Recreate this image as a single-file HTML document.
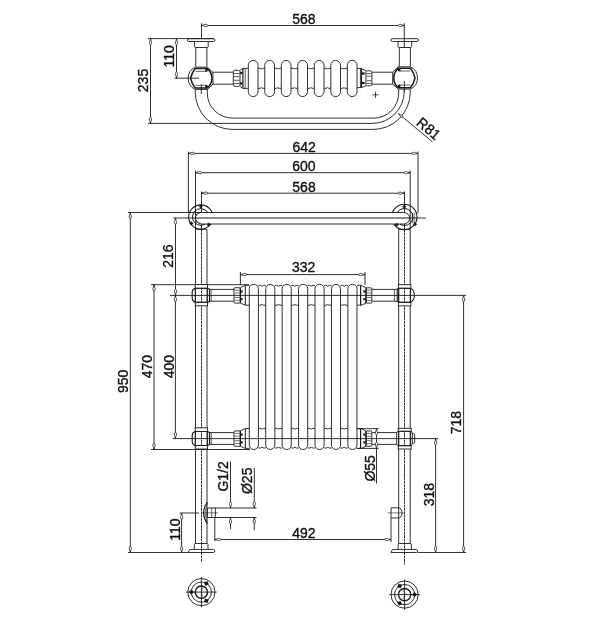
<!DOCTYPE html>
<html><head><meta charset="utf-8"><style>
html,body{margin:0;padding:0;background:#fff;width:600px;height:629px;overflow:hidden}
svg{display:block;will-change:transform}
text{font-family:"Liberation Sans",sans-serif;fill:#111;stroke:#111;stroke-width:0.35px}
</style></head><body>
<svg width="600" height="629" viewBox="0 0 600 629" stroke="#1a1a1a" fill="none">
<line x1="201.50" y1="23.30" x2="201.50" y2="38.50" stroke-width="0.9" />
<line x1="404.30" y1="23.30" x2="404.30" y2="47.50" stroke-width="0.9" />
<line x1="201.50" y1="25.50" x2="404.30" y2="25.50" stroke-width="0.9" />
<path d="M201.50,25.50 L203.80,24.95 C204.90,24.10 207.70,24.10 207.70,25.50 C207.70,26.90 204.90,26.90 203.80,26.05 Z" stroke-width="0.75" fill="#fff"/>
<path d="M404.30,25.50 L402.00,26.05 C400.90,26.90 398.10,26.90 398.10,25.50 C398.10,24.10 400.90,24.10 402.00,24.95 Z" stroke-width="0.75" fill="#fff"/>
<text x="0" y="0" font-size="14" text-anchor="middle" transform="translate(303.90 24.50) translate(0 -0.6) scale(1 1.04)">568</text>
<line x1="150.50" y1="38.70" x2="150.50" y2="123.50" stroke-width="0.9" />
<path d="M150.50,38.70 L151.05,41.00 C151.90,42.10 151.90,44.90 150.50,44.90 C149.10,44.90 149.10,42.10 149.95,41.00 Z" stroke-width="0.75" fill="#fff"/>
<path d="M150.50,123.50 L149.95,121.20 C149.10,120.10 149.10,117.30 150.50,117.30 C151.90,117.30 151.90,120.10 151.05,121.20 Z" stroke-width="0.75" fill="#fff"/>
<text x="0" y="0" font-size="14" text-anchor="middle" transform="translate(149.00 80.50) rotate(-90) translate(0 -0.6) scale(1 1.04)">235</text>
<line x1="148.00" y1="38.60" x2="214.00" y2="38.60" stroke-width="0.9" />
<line x1="176.50" y1="38.70" x2="176.50" y2="78.20" stroke-width="0.9" />
<path d="M176.50,38.70 L177.05,41.00 C177.90,42.10 177.90,44.90 176.50,44.90 C175.10,44.90 175.10,42.10 175.95,41.00 Z" stroke-width="0.75" fill="#fff"/>
<path d="M176.50,78.20 L175.95,75.90 C175.10,74.80 175.10,72.00 176.50,72.00 C177.90,72.00 177.90,74.80 177.05,75.90 Z" stroke-width="0.75" fill="#fff"/>
<text x="0" y="0" font-size="14" text-anchor="middle" transform="translate(174.80 56.30) rotate(-90) translate(0 -0.6) scale(1 1.04)">110</text>
<line x1="174.50" y1="78.20" x2="199.00" y2="78.20" stroke-width="0.9" />
<path d="M188.80,38.7 L213.60,38.7 A1.4,1.4 0 0 1 213.60,41.5 L188.80,41.5 A1.4,1.4 0 0 1 188.80,38.7 Z" stroke-width="0.9" fill="none" />
<path d="M194.50,41.5 L194.50,46.5 Q194.50,47.5 195.80,47.5 L206.90,47.5 Q208.20,47.5 208.20,46.5 L208.20,41.5" stroke-width="0.9" fill="none" />
<line x1="195.80" y1="47.50" x2="195.80" y2="66.50" stroke-width="0.9" />
<line x1="206.90" y1="47.50" x2="206.90" y2="66.50" stroke-width="0.9" />
<path d="M392.30,38.7 L417.10,38.7 A1.4,1.4 0 0 1 417.10,41.5 L392.30,41.5 A1.4,1.4 0 0 1 392.30,38.7 Z" stroke-width="0.9" fill="none" />
<path d="M398.00,41.5 L398.00,46.5 Q398.00,47.5 399.30,47.5 L410.40,47.5 Q411.70,47.5 411.70,46.5 L411.70,41.5" stroke-width="0.9" fill="none" />
<line x1="399.30" y1="47.50" x2="399.30" y2="66.50" stroke-width="0.9" />
<line x1="410.40" y1="47.50" x2="410.40" y2="66.50" stroke-width="0.9" />
<path d="M195.25,67.10 L207.35,67.10 L212.95,72.40 L212.95,84.40 L207.35,89.40 L195.25,89.40 A12.3,12.3 0 0 1 195.25,67.10 Z" stroke-width="0.9" fill="none" />
<path d="M195.25,68.60 L207.35,68.60 A12.6,12.6 0 0 1 207.35,88.00 L195.25,88.00 Q191.85,84.00 190.65,78.30 Q191.85,72.60 195.25,68.60 Z" stroke-width="1.5" fill="none" />
<line x1="195.65" y1="71.30" x2="206.95" y2="71.30" stroke-width="0.7" />
<line x1="195.65" y1="85.30" x2="206.95" y2="85.30" stroke-width="0.7" />
<rect x="205.45" y="68.60" width="2.20" height="2.70" rx="0" stroke-width="0.3" fill="#1a1a1a"/>
<rect x="205.45" y="85.30" width="2.20" height="2.70" rx="0" stroke-width="0.3" fill="#1a1a1a"/>
<path d="M410.40,66.80 L398.30,66.80 L392.70,72.10 L392.70,84.10 L398.30,89.10 L410.40,89.10 A12.3,12.3 0 0 0 410.40,66.80 Z" stroke-width="0.9" fill="none" />
<path d="M410.40,68.30 L398.30,68.30 A12.6,12.6 0 0 0 398.30,87.70 L410.40,87.70 Q413.80,83.70 415.00,78.00 Q413.80,72.30 410.40,68.30 Z" stroke-width="1.5" fill="none" />
<line x1="410.00" y1="71.00" x2="398.70" y2="71.00" stroke-width="0.7" />
<line x1="410.00" y1="85.00" x2="398.70" y2="85.00" stroke-width="0.7" />
<rect x="398.00" y="68.30" width="2.20" height="2.70" rx="0" stroke-width="0.3" fill="#1a1a1a"/>
<rect x="398.00" y="85.00" width="2.20" height="2.70" rx="0" stroke-width="0.3" fill="#1a1a1a"/>
<line x1="201.30" y1="84.50" x2="201.30" y2="94.00" stroke-width="0.9" />
<line x1="404.30" y1="80.80" x2="404.30" y2="92.00" stroke-width="0.9" />
<line x1="212.50" y1="72.20" x2="233.30" y2="72.20" stroke-width="0.9" />
<line x1="212.50" y1="84.20" x2="233.30" y2="84.20" stroke-width="0.9" />
<line x1="372.00" y1="72.20" x2="392.70" y2="72.20" stroke-width="0.9" />
<line x1="372.00" y1="84.20" x2="392.70" y2="84.20" stroke-width="0.9" />
<rect x="233.30" y="70.30" width="6.70" height="16.00" rx="1.5" stroke-width="0.9" fill="none"/>
<line x1="233.80" y1="73.50" x2="239.50" y2="73.50" stroke-width="0.7" />
<line x1="233.80" y1="76.60" x2="239.50" y2="76.60" stroke-width="0.7" />
<line x1="233.80" y1="80.30" x2="239.50" y2="80.30" stroke-width="0.7" />
<line x1="233.80" y1="83.50" x2="239.50" y2="83.50" stroke-width="0.7" />
<path d="M240,70.3 L242.9,68.3 L248.4,68.3 M240,86.3 L242.9,88.4 L248.4,88.4" stroke-width="0.9" fill="none" />
<line x1="242.90" y1="68.30" x2="242.90" y2="88.40" stroke-width="1.2" />
<line x1="245.20" y1="68.30" x2="245.20" y2="88.40" stroke-width="0.7" />
<rect x="240.20" y="72.00" width="2.00" height="2.00" rx="0" stroke-width="0.3" fill="#1a1a1a"/>
<rect x="240.20" y="82.50" width="2.00" height="2.00" rx="0" stroke-width="0.3" fill="#1a1a1a"/>
<rect x="365.90" y="70.80" width="6.00" height="15.00" rx="1.5" stroke-width="0.9" fill="none"/>
<line x1="366.40" y1="73.50" x2="371.40" y2="73.50" stroke-width="0.7" />
<line x1="366.40" y1="76.20" x2="371.40" y2="76.20" stroke-width="0.7" />
<line x1="366.40" y1="80.70" x2="371.40" y2="80.70" stroke-width="0.7" />
<line x1="366.40" y1="83.40" x2="371.40" y2="83.40" stroke-width="0.7" />
<path d="M365.9,70.8 L361.4,68.4 L357,68.4 M365.9,85.8 L361.4,87.6 L357,87.6" stroke-width="0.9" fill="none" />
<line x1="361.40" y1="68.40" x2="361.40" y2="87.60" stroke-width="1.2" />
<line x1="360.40" y1="68.40" x2="360.40" y2="87.60" stroke-width="0.8" />
<rect x="362.00" y="72.50" width="2.50" height="2.00" rx="0" stroke-width="0.3" fill="#1a1a1a"/>
<rect x="362.00" y="82.00" width="2.50" height="2.00" rx="0" stroke-width="0.3" fill="#1a1a1a"/>
<rect x="248.30" y="60.40" width="9.70" height="36.20" rx="4.85" stroke-width="0.9" fill="none"/>
<path d="M258.00,68.3 L260.10,68.3 Q261.40,69.6 262.70,68.3 L264.80,68.3" stroke-width="0.9" fill="none" />
<path d="M258.00,88.3 L260.10,88.3 Q261.40,87 262.70,88.3 L264.80,88.3" stroke-width="0.9" fill="none" />
<rect x="264.80" y="60.40" width="9.70" height="36.20" rx="4.85" stroke-width="0.9" fill="none"/>
<path d="M274.50,68.3 L276.60,68.3 Q277.90,69.6 279.20,68.3 L281.30,68.3" stroke-width="0.9" fill="none" />
<path d="M274.50,88.3 L276.60,88.3 Q277.90,87 279.20,88.3 L281.30,88.3" stroke-width="0.9" fill="none" />
<rect x="281.30" y="60.40" width="9.70" height="36.20" rx="4.85" stroke-width="0.9" fill="none"/>
<path d="M291.00,68.3 L293.10,68.3 Q294.40,69.6 295.70,68.3 L297.80,68.3" stroke-width="0.9" fill="none" />
<path d="M291.00,88.3 L293.10,88.3 Q294.40,87 295.70,88.3 L297.80,88.3" stroke-width="0.9" fill="none" />
<rect x="297.80" y="60.40" width="9.70" height="36.20" rx="4.85" stroke-width="0.9" fill="none"/>
<path d="M307.50,68.3 L309.60,68.3 Q310.90,69.6 312.20,68.3 L314.30,68.3" stroke-width="0.9" fill="none" />
<path d="M307.50,88.3 L309.60,88.3 Q310.90,87 312.20,88.3 L314.30,88.3" stroke-width="0.9" fill="none" />
<rect x="314.30" y="60.40" width="9.70" height="36.20" rx="4.85" stroke-width="0.9" fill="none"/>
<path d="M324.00,68.3 L326.10,68.3 Q327.40,69.6 328.70,68.3 L330.80,68.3" stroke-width="0.9" fill="none" />
<path d="M324.00,88.3 L326.10,88.3 Q327.40,87 328.70,88.3 L330.80,88.3" stroke-width="0.9" fill="none" />
<rect x="330.80" y="60.40" width="9.70" height="36.20" rx="4.85" stroke-width="0.9" fill="none"/>
<path d="M340.50,68.3 L342.60,68.3 Q343.90,69.6 345.20,68.3 L347.30,68.3" stroke-width="0.9" fill="none" />
<path d="M340.50,88.3 L342.60,88.3 Q343.90,87 345.20,88.3 L347.30,88.3" stroke-width="0.9" fill="none" />
<rect x="347.30" y="60.40" width="9.70" height="36.20" rx="4.85" stroke-width="0.9" fill="none"/>
<path d="M195.3,89.5 L195.3,92.40 A37,37 0 0 0 232.30,129.4 L373.20,129.4 A37,37 0 0 0 410.2,92.40 L410.2,89.5" stroke-width="0.9" fill="none" />
<path d="M207.3,89.5 L207.3,93.10 A25,25 0 0 0 232.30,118.1 L373.70,118.1 A25,25 0 0 0 398.7,93.10 L398.7,89.5" stroke-width="0.9" fill="none" />
<path d="M148,123.4 L372.20,123.4 A32,32 0 0 0 404.2,91.40 L404.2,89.5" stroke-width="0.9" fill="none" />
<line x1="372.50" y1="94.80" x2="378.50" y2="94.80" stroke-width="0.8" />
<line x1="375.50" y1="91.80" x2="375.50" y2="97.80" stroke-width="0.8" />
<line x1="398.30" y1="113.50" x2="432.50" y2="141.90" stroke-width="0.9" />
<path d="M398.60,113.80 L400.37,114.67 C401.53,114.71 403.32,116.20 402.57,117.10 C401.83,118.00 400.03,116.51 399.78,115.38 Z" stroke-width="0.75" fill="#fff"/>
<text x="0" y="0" font-size="14" text-anchor="middle" transform="translate(425.10 132.90) rotate(39.7) translate(0 -0.6) scale(1 1.04)">R81</text>
<line x1="188.40" y1="151.50" x2="188.40" y2="212.50" stroke-width="0.9" />
<line x1="418.00" y1="151.50" x2="418.00" y2="213.50" stroke-width="0.9" />
<line x1="188.40" y1="153.40" x2="418.00" y2="153.40" stroke-width="0.9" />
<path d="M188.40,153.40 L190.70,152.85 C191.80,152.00 194.60,152.00 194.60,153.40 C194.60,154.80 191.80,154.80 190.70,153.95 Z" stroke-width="0.75" fill="#fff"/>
<path d="M418.00,153.40 L415.70,153.95 C414.60,154.80 411.80,154.80 411.80,153.40 C411.80,152.00 414.60,152.00 415.70,152.85 Z" stroke-width="0.75" fill="#fff"/>
<text x="0" y="0" font-size="14" text-anchor="middle" transform="translate(304.20 152.30) translate(0 -0.6) scale(1 1.04)">642</text>
<line x1="195.50" y1="170.40" x2="195.50" y2="229.20" stroke-width="0.9" />
<line x1="410.20" y1="170.40" x2="410.20" y2="229.20" stroke-width="0.9" />
<line x1="195.50" y1="172.70" x2="410.20" y2="172.70" stroke-width="0.9" />
<path d="M195.50,172.70 L197.80,172.15 C198.90,171.30 201.70,171.30 201.70,172.70 C201.70,174.10 198.90,174.10 197.80,173.25 Z" stroke-width="0.75" fill="#fff"/>
<path d="M410.20,172.70 L407.90,173.25 C406.80,174.10 404.00,174.10 404.00,172.70 C404.00,171.30 406.80,171.30 407.90,172.15 Z" stroke-width="0.75" fill="#fff"/>
<text x="0" y="0" font-size="14" text-anchor="middle" transform="translate(303.85 171.80) translate(0 -0.6) scale(1 1.04)">600</text>
<line x1="201.50" y1="191.40" x2="201.50" y2="229.20" stroke-width="0.9" />
<line x1="404.50" y1="191.40" x2="404.50" y2="229.20" stroke-width="0.9" />
<line x1="201.50" y1="193.20" x2="404.50" y2="193.20" stroke-width="0.9" />
<path d="M201.50,193.20 L203.80,192.65 C204.90,191.80 207.70,191.80 207.70,193.20 C207.70,194.60 204.90,194.60 203.80,193.75 Z" stroke-width="0.75" fill="#fff"/>
<path d="M404.50,193.20 L402.20,193.75 C401.10,194.60 398.30,194.60 398.30,193.20 C398.30,191.80 401.10,191.80 402.20,192.65 Z" stroke-width="0.75" fill="#fff"/>
<text x="0" y="0" font-size="14" text-anchor="middle" transform="translate(304.00 192.10) translate(0 -0.6) scale(1 1.04)">568</text>
<line x1="130.30" y1="212.50" x2="130.30" y2="552.50" stroke-width="0.9" />
<path d="M130.30,212.50 L130.85,214.80 C131.70,215.90 131.70,218.70 130.30,218.70 C128.90,218.70 128.90,215.90 129.75,214.80 Z" stroke-width="0.75" fill="#fff"/>
<path d="M130.30,552.50 L129.75,550.20 C128.90,549.10 128.90,546.30 130.30,546.30 C131.70,546.30 131.70,549.10 130.85,550.20 Z" stroke-width="0.75" fill="#fff"/>
<text x="0" y="0" font-size="14" text-anchor="middle" transform="translate(128.50 381.30) rotate(-90) translate(0 -0.6) scale(1 1.04)">950</text>
<line x1="128.00" y1="212.50" x2="195.00" y2="212.50" stroke-width="0.9" />
<line x1="128.00" y1="552.50" x2="188.60" y2="552.50" stroke-width="0.9" />
<line x1="175.50" y1="218.00" x2="175.50" y2="295.40" stroke-width="0.9" />
<path d="M175.50,218.00 L176.05,220.30 C176.90,221.40 176.90,224.20 175.50,224.20 C174.10,224.20 174.10,221.40 174.95,220.30 Z" stroke-width="0.75" fill="#fff"/>
<path d="M175.50,295.40 L174.95,293.10 C174.10,292.00 174.10,289.20 175.50,289.20 C176.90,289.20 176.90,292.00 176.05,293.10 Z" stroke-width="0.75" fill="#fff"/>
<text x="0" y="0" font-size="14" text-anchor="middle" transform="translate(173.80 256.10) rotate(-90) translate(0 -0.6) scale(1 1.04)">216</text>
<line x1="154.00" y1="284.70" x2="154.00" y2="449.50" stroke-width="0.9" />
<path d="M154.00,284.70 L154.55,287.00 C155.40,288.10 155.40,290.90 154.00,290.90 C152.60,290.90 152.60,288.10 153.45,287.00 Z" stroke-width="0.75" fill="#fff"/>
<path d="M154.00,449.50 L153.45,447.20 C152.60,446.10 152.60,443.30 154.00,443.30 C155.40,443.30 155.40,446.10 154.55,447.20 Z" stroke-width="0.75" fill="#fff"/>
<text x="0" y="0" font-size="14" text-anchor="middle" transform="translate(152.50 366.70) rotate(-90) translate(0 -0.6) scale(1 1.04)">470</text>
<line x1="151.00" y1="284.70" x2="249.00" y2="284.70" stroke-width="0.9" />
<line x1="151.00" y1="449.50" x2="250.00" y2="449.50" stroke-width="0.9" />
<line x1="175.40" y1="295.40" x2="175.40" y2="438.60" stroke-width="0.9" />
<path d="M175.40,295.40 L175.95,297.70 C176.80,298.80 176.80,301.60 175.40,301.60 C174.00,301.60 174.00,298.80 174.85,297.70 Z" stroke-width="0.75" fill="#fff"/>
<path d="M175.40,438.60 L174.85,436.30 C174.00,435.20 174.00,432.40 175.40,432.40 C176.80,432.40 176.80,435.20 175.95,436.30 Z" stroke-width="0.75" fill="#fff"/>
<text x="0" y="0" font-size="14" text-anchor="middle" transform="translate(174.50 366.60) rotate(-90) translate(0 -0.6) scale(1 1.04)">400</text>
<line x1="172.70" y1="438.60" x2="438.00" y2="438.60" stroke-width="0.9" />
<line x1="170.00" y1="295.40" x2="466.00" y2="295.40" stroke-width="0.9" />
<line x1="463.60" y1="295.40" x2="463.60" y2="552.50" stroke-width="0.9" />
<path d="M463.60,295.40 L464.15,297.70 C465.00,298.80 465.00,301.60 463.60,301.60 C462.20,301.60 462.20,298.80 463.05,297.70 Z" stroke-width="0.75" fill="#fff"/>
<path d="M463.60,552.50 L463.05,550.20 C462.20,549.10 462.20,546.30 463.60,546.30 C465.00,546.30 465.00,549.10 464.15,550.20 Z" stroke-width="0.75" fill="#fff"/>
<text x="0" y="0" font-size="14" text-anchor="middle" transform="translate(462.00 422.70) rotate(-90) translate(0 -0.6) scale(1 1.04)">718</text>
<line x1="417.60" y1="552.50" x2="466.00" y2="552.50" stroke-width="0.9" />
<line x1="435.60" y1="438.60" x2="435.60" y2="552.50" stroke-width="0.9" />
<path d="M435.60,438.60 L436.15,440.90 C437.00,442.00 437.00,444.80 435.60,444.80 C434.20,444.80 434.20,442.00 435.05,440.90 Z" stroke-width="0.75" fill="#fff"/>
<path d="M435.60,552.50 L435.05,550.20 C434.20,549.10 434.20,546.30 435.60,546.30 C437.00,546.30 437.00,549.10 436.15,550.20 Z" stroke-width="0.75" fill="#fff"/>
<text x="0" y="0" font-size="14" text-anchor="middle" transform="translate(435.00 494.60) rotate(-90) translate(0 -0.6) scale(1 1.04)">318</text>
<line x1="240.40" y1="272.00" x2="240.40" y2="285.00" stroke-width="0.9" />
<line x1="365.00" y1="272.00" x2="365.00" y2="285.00" stroke-width="0.9" />
<line x1="240.40" y1="274.60" x2="365.00" y2="274.60" stroke-width="0.9" />
<path d="M240.40,274.60 L242.70,274.05 C243.80,273.20 246.60,273.20 246.60,274.60 C246.60,276.00 243.80,276.00 242.70,275.15 Z" stroke-width="0.75" fill="#fff"/>
<path d="M365.00,274.60 L362.70,275.15 C361.60,276.00 358.80,276.00 358.80,274.60 C358.80,273.20 361.60,273.20 362.70,274.05 Z" stroke-width="0.75" fill="#fff"/>
<text x="0" y="0" font-size="14" text-anchor="middle" transform="translate(303.70 272.80) translate(0 -0.6) scale(1 1.04)">332</text>
<circle cx="200.80" cy="217.00" r="12.10" stroke-width="1.1" fill="none"/>
<circle cx="200.80" cy="217.00" r="8.30" stroke-width="1.0" fill="none"/>
<circle cx="404.30" cy="217.00" r="12.70" stroke-width="1.1" fill="none"/>
<circle cx="404.30" cy="217.00" r="8.50" stroke-width="1.0" fill="none"/>
<path d="M200.6,212.5 L403.85,212.5 A5.75,5.75 0 0 1 403.85,224.0 L200.6,224.0 A5.75,5.75 0 0 1 200.6,212.5 Z" fill="#fff" stroke="none"/>
<line x1="195.40" y1="212.50" x2="403.85" y2="212.50" stroke-width="0.9" />
<line x1="200.60" y1="224.00" x2="403.85" y2="224.00" stroke-width="0.9" />
<path d="M403.85,212.5 A5.75,5.75 0 0 1 403.85,224.0" stroke-width="0.9" fill="none" />
<path d="M200.6,212.8 A5.3,5.3 0 0 0 200.6,223.4" stroke-width="1.1" fill="none" />
<line x1="173.50" y1="218.00" x2="195.40" y2="218.00" stroke-width="0.9" />
<line x1="195.40" y1="218.00" x2="409.60" y2="218.00" stroke-width="1.0" />
<line x1="409.60" y1="218.00" x2="425.80" y2="218.00" stroke-width="0.9" />
<line x1="412.50" y1="213.00" x2="412.50" y2="223.00" stroke-width="0.7" />
<line x1="414.20" y1="213.00" x2="414.20" y2="223.00" stroke-width="0.7" />
<rect x="199.50" y="205.10" width="2.6" height="2.6" transform="rotate(45 200.80 206.40)" fill="#1a1a1a" stroke-width="0.4"/>
<rect x="190.00" y="222.10" width="2.6" height="2.6" transform="rotate(45 191.30 223.40)" fill="#1a1a1a" stroke-width="0.4"/>
<rect x="207.40" y="223.40" width="2.6" height="2.6" transform="rotate(45 208.70 224.70)" fill="#1a1a1a" stroke-width="0.4"/>
<rect x="403.00" y="205.40" width="2.6" height="2.6" transform="rotate(45 404.30 206.70)" fill="#1a1a1a" stroke-width="0.4"/>
<rect x="413.70" y="222.90" width="2.6" height="2.6" transform="rotate(45 415.00 224.20)" fill="#1a1a1a" stroke-width="0.4"/>
<rect x="395.40" y="223.50" width="2.6" height="2.6" transform="rotate(45 396.70 224.80)" fill="#1a1a1a" stroke-width="0.4"/>
<line x1="195.50" y1="229.30" x2="207.00" y2="229.30" stroke-width="0.9" />
<line x1="398.70" y1="229.40" x2="410.20" y2="229.40" stroke-width="0.9" />
<line x1="195.50" y1="229.20" x2="195.50" y2="543.40" stroke-width="0.9" />
<line x1="207.00" y1="229.20" x2="207.00" y2="543.40" stroke-width="0.9" />
<line x1="201.50" y1="229.20" x2="201.50" y2="562.00" stroke-width="0.9" stroke-dasharray="2.8,0.6"/>
<line x1="398.70" y1="229.20" x2="398.70" y2="543.40" stroke-width="0.9" />
<line x1="410.20" y1="229.20" x2="410.20" y2="543.40" stroke-width="0.9" />
<line x1="404.50" y1="229.20" x2="404.50" y2="564.50" stroke-width="0.9" stroke-dasharray="2.8,0.6"/>
<rect x="195.20" y="284.60" width="12.40" height="3.70" rx="0" stroke-width="0.9" fill="#fff"/>
<rect x="195.20" y="302.30" width="12.40" height="3.50" rx="0" stroke-width="0.9" fill="#fff"/>
<path d="M195.2,288.30 L207.6,288.30 L209.6,289.30 L209.6,301.30 L207.6,302.30 L195.2,302.30 Q192.2,301.20 192.2,298.20 L192.2,292.20 Q192.2,289.20 195.2,288.30 Z" stroke-width="1.1" fill="none" />
<line x1="195.20" y1="288.30" x2="195.20" y2="302.30" stroke-width="0.9" />
<line x1="207.60" y1="288.30" x2="207.60" y2="302.30" stroke-width="0.9" />
<line x1="209.60" y1="289.30" x2="211.20" y2="289.30" stroke-width="0.9" />
<line x1="209.60" y1="301.30" x2="211.20" y2="301.30" stroke-width="0.9" />
<line x1="211.20" y1="289.30" x2="211.20" y2="301.30" stroke-width="0.7" />
<rect x="195.20" y="427.80" width="12.40" height="3.70" rx="0" stroke-width="0.9" fill="#fff"/>
<rect x="195.20" y="445.50" width="12.40" height="3.50" rx="0" stroke-width="0.9" fill="#fff"/>
<path d="M195.2,431.50 L207.6,431.50 L209.6,432.50 L209.6,444.50 L207.6,445.50 L195.2,445.50 Q192.2,444.40 192.2,441.40 L192.2,435.40 Q192.2,432.40 195.2,431.50 Z" stroke-width="1.1" fill="none" />
<line x1="195.20" y1="431.50" x2="195.20" y2="445.50" stroke-width="0.9" />
<line x1="207.60" y1="431.50" x2="207.60" y2="445.50" stroke-width="0.9" />
<line x1="209.60" y1="432.50" x2="211.20" y2="432.50" stroke-width="0.9" />
<line x1="209.60" y1="444.50" x2="211.20" y2="444.50" stroke-width="0.9" />
<line x1="211.20" y1="432.50" x2="211.20" y2="444.50" stroke-width="0.7" />
<rect x="398.40" y="284.70" width="12.50" height="3.60" rx="0" stroke-width="0.9" fill="#fff"/>
<rect x="398.40" y="302.30" width="12.50" height="3.60" rx="0" stroke-width="0.9" fill="#fff"/>
<path d="M398.4,288.30 L409.5,288.30 Q414.4,289.20 414.4,295.30 Q414.4,301.40 409.5,302.30 L398.4,302.30 L397.2,301.30 L397.2,289.30 Z" stroke-width="1.1" fill="none" />
<line x1="398.70" y1="288.30" x2="398.70" y2="302.30" stroke-width="0.9" />
<line x1="410.60" y1="288.30" x2="410.60" y2="302.30" stroke-width="0.9" />
<line x1="394.40" y1="289.30" x2="397.20" y2="289.30" stroke-width="0.9" />
<line x1="394.40" y1="301.30" x2="397.20" y2="301.30" stroke-width="0.9" />
<line x1="394.40" y1="289.30" x2="394.40" y2="301.30" stroke-width="0.7" />
<rect x="398.20" y="428.30" width="13.00" height="3.00" rx="0" stroke-width="0.9" fill="#fff"/>
<rect x="398.20" y="445.70" width="13.00" height="3.30" rx="0" stroke-width="0.9" fill="#fff"/>
<path d="M398.2,431.30 L410.3,431.30 Q412.3,431.30 412.3,433.30 L412.3,443.70 Q412.3,445.70 410.3,445.70 L398.2,445.70 L396.7,444.40 L396.7,432.40 Z" stroke-width="0.9" fill="none" />
<path d="M412.3,433.70 L413.6,433.70 Q414.7,433.70 414.7,434.90 L414.7,442.10 Q414.7,443.30 413.6,443.30 L412.3,443.30" stroke-width="0.9" fill="none" />
<line x1="398.70" y1="431.30" x2="398.70" y2="445.70" stroke-width="0.9" />
<line x1="410.60" y1="431.30" x2="410.60" y2="445.70" stroke-width="0.9" />
<line x1="211.20" y1="289.40" x2="234.00" y2="289.40" stroke-width="0.9" />
<line x1="211.20" y1="301.20" x2="234.00" y2="301.20" stroke-width="0.9" />
<line x1="211.20" y1="432.60" x2="234.00" y2="432.60" stroke-width="0.9" />
<line x1="211.20" y1="444.40" x2="234.00" y2="444.40" stroke-width="0.9" />
<line x1="372.00" y1="289.40" x2="394.40" y2="289.40" stroke-width="0.9" />
<line x1="372.00" y1="301.20" x2="394.40" y2="301.20" stroke-width="0.9" />
<line x1="372.00" y1="432.60" x2="396.70" y2="432.60" stroke-width="0.9" />
<line x1="372.00" y1="444.40" x2="396.70" y2="444.40" stroke-width="0.9" />
<rect x="234.00" y="287.70" width="6.30" height="15.40" rx="1" stroke-width="0.9" fill="none"/>
<line x1="234.60" y1="290.20" x2="239.80" y2="290.20" stroke-width="0.6" />
<line x1="234.60" y1="293.00" x2="239.80" y2="293.00" stroke-width="0.6" />
<line x1="234.60" y1="297.50" x2="239.80" y2="297.50" stroke-width="0.6" />
<line x1="234.60" y1="300.40" x2="239.80" y2="300.40" stroke-width="0.6" />
<line x1="240.40" y1="287.70" x2="240.40" y2="303.10" stroke-width="1.3" />
<path d="M240.4,287.70 L245.3,285.30 M240.4,303.10 L245.3,305.20" stroke-width="0.9" fill="none" />
<line x1="245.30" y1="285.30" x2="245.30" y2="305.20" stroke-width="1.0" />
<line x1="245.30" y1="285.30" x2="249.50" y2="285.30" stroke-width="0.9" />
<line x1="245.30" y1="305.20" x2="249.50" y2="305.20" stroke-width="0.9" />
<rect x="240.80" y="290.60" width="1.80" height="1.80" rx="0" stroke-width="0.3" fill="#1a1a1a"/>
<rect x="240.80" y="298.20" width="1.80" height="1.80" rx="0" stroke-width="0.3" fill="#1a1a1a"/>
<rect x="366.00" y="287.80" width="5.80" height="15.30" rx="1" stroke-width="0.9" fill="none"/>
<line x1="366.50" y1="290.20" x2="371.30" y2="290.20" stroke-width="0.6" />
<line x1="366.50" y1="293.00" x2="371.30" y2="293.00" stroke-width="0.6" />
<line x1="366.50" y1="297.50" x2="371.30" y2="297.50" stroke-width="0.6" />
<line x1="366.50" y1="300.40" x2="371.30" y2="300.40" stroke-width="0.6" />
<line x1="366.00" y1="287.80" x2="366.00" y2="303.10" stroke-width="1.3" />
<path d="M366,287.80 L361.3,285.30 M366,303.10 L361.3,305.20" stroke-width="0.9" fill="none" />
<line x1="360.60" y1="285.30" x2="360.60" y2="305.20" stroke-width="1.2" />
<line x1="357.00" y1="285.30" x2="361.30" y2="285.30" stroke-width="0.9" />
<line x1="357.00" y1="305.20" x2="361.30" y2="305.20" stroke-width="0.9" />
<rect x="363.60" y="290.60" width="1.80" height="1.80" rx="0" stroke-width="0.3" fill="#1a1a1a"/>
<rect x="363.60" y="298.20" width="1.80" height="1.80" rx="0" stroke-width="0.3" fill="#1a1a1a"/>
<rect x="234.00" y="430.90" width="6.30" height="15.40" rx="1" stroke-width="0.9" fill="none"/>
<line x1="234.60" y1="433.40" x2="239.80" y2="433.40" stroke-width="0.6" />
<line x1="234.60" y1="436.20" x2="239.80" y2="436.20" stroke-width="0.6" />
<line x1="234.60" y1="440.70" x2="239.80" y2="440.70" stroke-width="0.6" />
<line x1="234.60" y1="443.60" x2="239.80" y2="443.60" stroke-width="0.6" />
<line x1="240.40" y1="430.90" x2="240.40" y2="446.30" stroke-width="1.3" />
<path d="M240.4,430.90 L245.3,428.50 M240.4,446.30 L245.3,448.40" stroke-width="0.9" fill="none" />
<line x1="245.30" y1="428.50" x2="245.30" y2="448.40" stroke-width="1.0" />
<line x1="245.30" y1="428.50" x2="249.50" y2="428.50" stroke-width="0.9" />
<line x1="245.30" y1="448.40" x2="249.50" y2="448.40" stroke-width="0.9" />
<rect x="240.80" y="433.80" width="1.80" height="1.80" rx="0" stroke-width="0.3" fill="#1a1a1a"/>
<rect x="240.80" y="441.40" width="1.80" height="1.80" rx="0" stroke-width="0.3" fill="#1a1a1a"/>
<rect x="366.00" y="431.00" width="5.80" height="15.30" rx="1" stroke-width="0.9" fill="none"/>
<line x1="366.50" y1="433.40" x2="371.30" y2="433.40" stroke-width="0.6" />
<line x1="366.50" y1="436.20" x2="371.30" y2="436.20" stroke-width="0.6" />
<line x1="366.50" y1="440.70" x2="371.30" y2="440.70" stroke-width="0.6" />
<line x1="366.50" y1="443.60" x2="371.30" y2="443.60" stroke-width="0.6" />
<line x1="366.00" y1="431.00" x2="366.00" y2="446.30" stroke-width="1.3" />
<path d="M366,431.00 L361.3,428.50 M366,446.30 L361.3,448.40" stroke-width="0.9" fill="none" />
<line x1="360.60" y1="428.50" x2="360.60" y2="448.40" stroke-width="1.2" />
<line x1="357.00" y1="428.50" x2="361.30" y2="428.50" stroke-width="0.9" />
<line x1="357.00" y1="448.40" x2="361.30" y2="448.40" stroke-width="0.9" />
<rect x="363.60" y="433.80" width="1.80" height="1.80" rx="0" stroke-width="0.3" fill="#1a1a1a"/>
<rect x="363.60" y="441.40" width="1.80" height="1.80" rx="0" stroke-width="0.3" fill="#1a1a1a"/>
<path d="M249.30,288.4 A4.55,4 0 0 1 258.40,288.4 L258.40,445.1 A4.55,4.4 0 0 1 249.30,445.1 Z" stroke-width="0.9" fill="none" />
<path d="M258.40,285.4 L260.47,285.4 Q262.07,287 263.67,285.4 L265.73,285.4" stroke-width="0.9" fill="none" />
<path d="M258.40,305.2 L260.57,305.2 Q262.07,303.8 263.57,305.2 L265.73,305.2" stroke-width="0.9" fill="none" />
<path d="M258.40,428.4 L260.57,428.4 Q262.07,429.9 263.57,428.4 L265.73,428.4" stroke-width="0.9" fill="none" />
<path d="M258.40,448 L260.57,448 Q262.07,446.6 263.57,448 L265.73,448" stroke-width="0.9" fill="none" />
<path d="M265.73,288.4 A4.55,4 0 0 1 274.83,288.4 L274.83,445.1 A4.55,4.4 0 0 1 265.73,445.1 Z" stroke-width="0.9" fill="none" />
<path d="M274.83,285.4 L276.89,285.4 Q278.50,287 280.10,285.4 L282.16,285.4" stroke-width="0.9" fill="none" />
<path d="M274.83,305.2 L277.00,305.2 Q278.50,303.8 280.00,305.2 L282.16,305.2" stroke-width="0.9" fill="none" />
<path d="M274.83,428.4 L277.00,428.4 Q278.50,429.9 280.00,428.4 L282.16,428.4" stroke-width="0.9" fill="none" />
<path d="M274.83,448 L277.00,448 Q278.50,446.6 280.00,448 L282.16,448" stroke-width="0.9" fill="none" />
<path d="M282.16,288.4 A4.55,4 0 0 1 291.26,288.4 L291.26,445.1 A4.55,4.4 0 0 1 282.16,445.1 Z" stroke-width="0.9" fill="none" />
<path d="M291.26,285.4 L293.33,285.4 Q294.93,287 296.53,285.4 L298.59,285.4" stroke-width="0.9" fill="none" />
<path d="M291.26,305.2 L293.43,305.2 Q294.93,303.8 296.43,305.2 L298.59,305.2" stroke-width="0.9" fill="none" />
<path d="M291.26,428.4 L293.43,428.4 Q294.93,429.9 296.43,428.4 L298.59,428.4" stroke-width="0.9" fill="none" />
<path d="M291.26,448 L293.43,448 Q294.93,446.6 296.43,448 L298.59,448" stroke-width="0.9" fill="none" />
<path d="M298.59,288.4 A4.55,4 0 0 1 307.69,288.4 L307.69,445.1 A4.55,4.4 0 0 1 298.59,445.1 Z" stroke-width="0.9" fill="none" />
<path d="M307.69,285.4 L309.75,285.4 Q311.36,287 312.96,285.4 L315.02,285.4" stroke-width="0.9" fill="none" />
<path d="M307.69,305.2 L309.86,305.2 Q311.36,303.8 312.86,305.2 L315.02,305.2" stroke-width="0.9" fill="none" />
<path d="M307.69,428.4 L309.86,428.4 Q311.36,429.9 312.86,428.4 L315.02,428.4" stroke-width="0.9" fill="none" />
<path d="M307.69,448 L309.86,448 Q311.36,446.6 312.86,448 L315.02,448" stroke-width="0.9" fill="none" />
<path d="M315.02,288.4 A4.55,4 0 0 1 324.12,288.4 L324.12,445.1 A4.55,4.4 0 0 1 315.02,445.1 Z" stroke-width="0.9" fill="none" />
<path d="M324.12,285.4 L326.18,285.4 Q327.78,287 329.38,285.4 L331.45,285.4" stroke-width="0.9" fill="none" />
<path d="M324.12,305.2 L326.28,305.2 Q327.78,303.8 329.28,305.2 L331.45,305.2" stroke-width="0.9" fill="none" />
<path d="M324.12,428.4 L326.28,428.4 Q327.78,429.9 329.28,428.4 L331.45,428.4" stroke-width="0.9" fill="none" />
<path d="M324.12,448 L326.28,448 Q327.78,446.6 329.28,448 L331.45,448" stroke-width="0.9" fill="none" />
<path d="M331.45,288.4 A4.55,4 0 0 1 340.55,288.4 L340.55,445.1 A4.55,4.4 0 0 1 331.45,445.1 Z" stroke-width="0.9" fill="none" />
<path d="M340.55,285.4 L342.62,285.4 Q344.22,287 345.82,285.4 L347.88,285.4" stroke-width="0.9" fill="none" />
<path d="M340.55,305.2 L342.72,305.2 Q344.22,303.8 345.72,305.2 L347.88,305.2" stroke-width="0.9" fill="none" />
<path d="M340.55,428.4 L342.72,428.4 Q344.22,429.9 345.72,428.4 L347.88,428.4" stroke-width="0.9" fill="none" />
<path d="M340.55,448 L342.72,448 Q344.22,446.6 345.72,448 L347.88,448" stroke-width="0.9" fill="none" />
<path d="M347.88,288.4 A4.55,4 0 0 1 356.98,288.4 L356.98,445.1 A4.55,4.4 0 0 1 347.88,445.1 Z" stroke-width="0.9" fill="none" />
<path d="M189.80,549.4 L213.50,549.4 Q214.80,549.6 214.80,550.9 Q214.80,552.5 213.50,552.5 L188.20,552.5 Z" stroke-width="0.9" fill="none" />
<path d="M193.70,549.4 Q194.30,549.2 194.30,548.2 L194.30,544.6 Q194.30,543.5 195.50,543.5 L207.00,543.5 Q208.00,543.5 208.00,544.6 L208.00,548.2 Q208.00,549.2 208.60,549.4" stroke-width="0.9" fill="none" />
<path d="M392.60,549.4 L416.30,549.4 Q417.60,549.6 417.60,550.9 Q417.60,552.5 416.30,552.5 L391.00,552.5 Z" stroke-width="0.9" fill="none" />
<path d="M397.60,549.4 Q398.20,549.2 398.20,548.2 L398.20,544.6 Q398.20,543.5 398.70,543.5 L410.20,543.5 Q411.40,543.5 411.40,544.6 L411.40,548.2 Q411.40,549.2 412.00,549.4" stroke-width="0.9" fill="none" />
<path d="M207.3,502 Q199.8,512.8 207.3,523.7" stroke-width="1.1" fill="none" />
<path d="M207.3,503.5 Q203.3,512.8 207.3,522.2" stroke-width="0.6" fill="none" />
<rect x="207.30" y="508.00" width="8.00" height="9.50" rx="0" stroke-width="0.9" fill="none"/>
<line x1="211.70" y1="508.00" x2="211.70" y2="517.50" stroke-width="0.7" />
<line x1="202.00" y1="512.90" x2="218.00" y2="512.90" stroke-width="0.6" />
<line x1="215.30" y1="508.00" x2="256.50" y2="508.00" stroke-width="0.9" />
<line x1="215.30" y1="517.50" x2="256.50" y2="517.50" stroke-width="0.9" />
<line x1="181.60" y1="513.00" x2="181.60" y2="552.50" stroke-width="0.9" />
<path d="M181.60,513.00 L182.15,515.30 C183.00,516.40 183.00,519.20 181.60,519.20 C180.20,519.20 180.20,516.40 181.05,515.30 Z" stroke-width="0.75" fill="#fff"/>
<path d="M181.60,552.50 L181.05,550.20 C180.20,549.10 180.20,546.30 181.60,546.30 C183.00,546.30 183.00,549.10 182.15,550.20 Z" stroke-width="0.75" fill="#fff"/>
<text x="0" y="0" font-size="14" text-anchor="middle" transform="translate(180.50 529.70) rotate(-90) translate(0 -0.6) scale(1 1.04)">110</text>
<line x1="179.70" y1="513.00" x2="199.00" y2="513.00" stroke-width="0.9" />
<line x1="230.50" y1="461.40" x2="230.50" y2="508.00" stroke-width="0.9" />
<path d="M230.50,508.00 L229.95,505.70 C229.10,504.60 229.10,501.80 230.50,501.80 C231.90,501.80 231.90,504.60 231.05,505.70 Z" stroke-width="0.75" fill="#fff"/>
<line x1="230.50" y1="517.50" x2="230.50" y2="529.00" stroke-width="0.9" />
<path d="M230.50,517.50 L231.05,519.80 C231.90,520.90 231.90,523.70 230.50,523.70 C229.10,523.70 229.10,520.90 229.95,519.80 Z" stroke-width="0.75" fill="#fff"/>
<text x="0" y="0" font-size="14" text-anchor="middle" transform="translate(229.00 476.40) rotate(-90) translate(0 -0.6) scale(1 1.04)">G1/2</text>
<line x1="254.30" y1="468.00" x2="254.30" y2="508.00" stroke-width="0.9" />
<path d="M254.30,508.00 L253.75,505.70 C252.90,504.60 252.90,501.80 254.30,501.80 C255.70,501.80 255.70,504.60 254.85,505.70 Z" stroke-width="0.75" fill="#fff"/>
<line x1="254.30" y1="517.50" x2="254.30" y2="530.00" stroke-width="0.9" />
<path d="M254.30,517.50 L254.85,519.80 C255.70,520.90 255.70,523.70 254.30,523.70 C252.90,523.70 252.90,520.90 253.75,519.80 Z" stroke-width="0.75" fill="#fff"/>
<text x="0" y="0" font-size="14" text-anchor="middle" transform="translate(253.00 480.80) rotate(-90) translate(0 -0.6) scale(1 1.04)">Ø25</text>
<line x1="214.80" y1="517.50" x2="214.80" y2="541.00" stroke-width="0.9" />
<line x1="391.00" y1="518.00" x2="391.00" y2="542.00" stroke-width="0.9" />
<line x1="214.80" y1="539.50" x2="391.00" y2="539.50" stroke-width="0.9" />
<path d="M214.80,539.50 L217.10,538.95 C218.20,538.10 221.00,538.10 221.00,539.50 C221.00,540.90 218.20,540.90 217.10,540.05 Z" stroke-width="0.75" fill="#fff"/>
<path d="M391.00,539.50 L388.70,540.05 C387.60,540.90 384.80,540.90 384.80,539.50 C384.80,538.10 387.60,538.10 388.70,538.95 Z" stroke-width="0.75" fill="#fff"/>
<text x="0" y="0" font-size="14" text-anchor="middle" transform="translate(303.90 538.70) translate(0 -0.6) scale(1 1.04)">492</text>
<path d="M391,507.8 L398,507.8 Q402,507.8 402,512.9 Q402,518 398,518 L391,518 Z" stroke-width="0.9" fill="none" />
<line x1="387.80" y1="512.90" x2="403.70" y2="512.90" stroke-width="0.6" />
<line x1="376.50" y1="428.70" x2="376.50" y2="483.60" stroke-width="0.9" />
<path d="M376.50,428.70 L377.05,431.00 C377.90,432.10 377.90,434.90 376.50,434.90 C375.10,434.90 375.10,432.10 375.95,431.00 Z" stroke-width="0.75" fill="#fff"/>
<path d="M376.50,448.40 L375.95,446.10 C375.10,445.00 375.10,442.20 376.50,442.20 C377.90,442.20 377.90,445.00 377.05,446.10 Z" stroke-width="0.75" fill="#fff"/>
<line x1="356.60" y1="428.70" x2="378.60" y2="428.70" stroke-width="0.9" />
<line x1="356.60" y1="448.40" x2="378.60" y2="448.40" stroke-width="0.9" />
<text x="0" y="0" font-size="14" text-anchor="middle" transform="translate(375.50 468.40) rotate(-90) translate(0 -0.6) scale(1 1.04)">Ø55</text>
<circle cx="201.40" cy="592.10" r="13.60" stroke-width="0.9" fill="none"/>
<circle cx="201.40" cy="592.10" r="10.10" stroke-width="0.9" fill="none"/>
<circle cx="201.40" cy="592.10" r="6.15" stroke-width="1.4" fill="none"/>
<line x1="186.10" y1="592.10" x2="216.70" y2="592.10" stroke-width="0.9" />
<line x1="201.40" y1="577.10" x2="201.40" y2="607.30" stroke-width="0.9" />
<path d="M203.20,587.50 Q199.80,592.10 203.20,596.70" stroke-width="0.6" fill="none" />
<rect x="189.80" y="590.50" width="3.2" height="3.2" transform="rotate(225 191.40 592.10)" fill="#111" stroke-width="0.4"/>
<rect x="204.80" y="581.84" width="3.2" height="3.2" transform="rotate(-15 206.40 583.44)" fill="#111" stroke-width="0.4"/>
<rect x="204.80" y="599.16" width="3.2" height="3.2" transform="rotate(105 206.40 600.76)" fill="#111" stroke-width="0.4"/>
<circle cx="404.60" cy="594.60" r="13.60" stroke-width="0.9" fill="none"/>
<circle cx="404.60" cy="594.60" r="10.10" stroke-width="0.9" fill="none"/>
<circle cx="404.60" cy="594.60" r="6.15" stroke-width="1.4" fill="none"/>
<line x1="389.30" y1="594.60" x2="419.90" y2="594.60" stroke-width="0.9" />
<line x1="404.60" y1="579.60" x2="404.60" y2="609.80" stroke-width="0.9" />
<path d="M402.80,590.00 Q406.20,594.60 402.80,599.20" stroke-width="0.6" fill="none" />
<rect x="413.00" y="593.00" width="3.2" height="3.2" transform="rotate(45 414.60 594.60)" fill="#111" stroke-width="0.4"/>
<rect x="398.00" y="584.34" width="3.2" height="3.2" transform="rotate(-75 399.60 585.94)" fill="#111" stroke-width="0.4"/>
<rect x="398.00" y="601.66" width="3.2" height="3.2" transform="rotate(165 399.60 603.26)" fill="#111" stroke-width="0.4"/>
</svg></body></html>
